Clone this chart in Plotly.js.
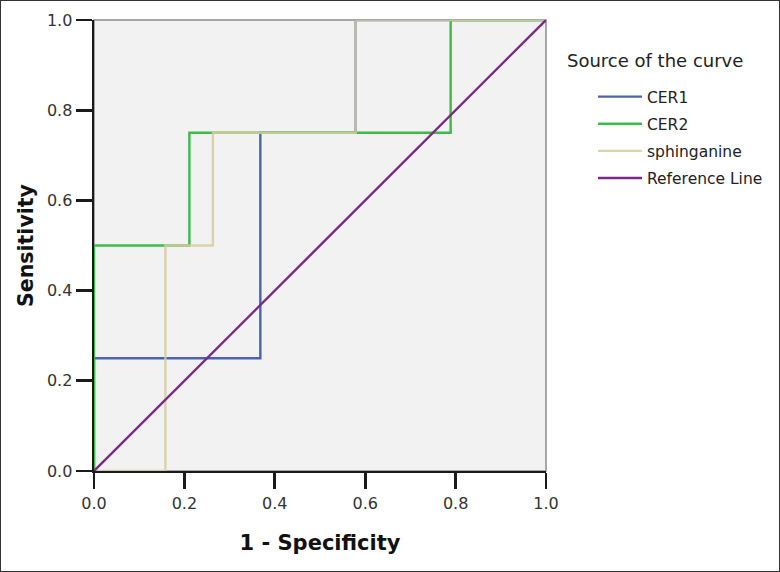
<!DOCTYPE html>
<html>
<head>
<meta charset="utf-8">
<script src="https://cdn.plot.ly/plotly-3.0.1.min.js"></script>
<style>
html,body{margin:0;padding:0;background:#fff;}
#wrap{width:780px;height:572px;position:relative;overflow:hidden;}
#chart{position:absolute;left:0;top:0;width:800px;height:572px;}
#border{position:absolute;left:0;top:0;width:780px;height:572px;box-sizing:border-box;border:1px solid #333;pointer-events:none;}
</style>
</head>
<body>
<div id="wrap"><div id="chart"></div><div id="border"></div></div>
<script>
// ROC curve step points (1 - Specificity, Sensitivity)
const cer1X = [0, 0, 0.368, 0.368, 0.579, 0.579, 1];
const cer1Y = [0, 0.25, 0.25, 0.75, 0.75, 1, 1];
const cer2X = [0, 0, 0.211, 0.211, 0.789, 0.789, 1];
const cer2Y = [0, 0.5, 0.5, 0.75, 0.75, 1, 1];
const sphX = [0, 0.158, 0.158, 0.263, 0.263, 0.579, 0.579, 1];
const sphY = [0, 0, 0.5, 0.5, 0.75, 0.75, 1, 1];
const refX = [0, 1];
const refY = [0, 1];
const seriesNames = ['CER1', 'CER2', 'sphinganine', 'Reference Line'];
const tickVals = [0, 0.2, 0.4, 0.6, 0.8, 1.0];
const tickText = ['0.0', '0.2', '0.4', '0.6', '0.8', '1.0'];

const colors = ['#4b62b3', '#3fba4a', 'rgba(212,206,156,0.85)', '#7b2a84'];
const xs = [cer1X, cer2X, sphX, refX];
const ys = [cer1Y, cer2Y, sphY, refY];

const traces = seriesNames.map((n, i) => ({
  x: xs[i], y: ys[i], name: n, type: 'scatter', mode: 'lines',
  line: {color: colors[i], width: 2.4},
  legendgroup: 'g' + i,
  cliponaxis: false,
  hoverinfo: 'skip'
}));

const font = 'DejaVu Sans, Arial, sans-serif';
const axisCommon = {
  range: [0, 1], tickvals: tickVals, ticktext: tickText,
  showgrid: false, zeroline: false,
  showline: true, linecolor: '#1a1a1a', linewidth: 2.4,
  ticks: 'outside', ticklen: 16, tickwidth: 2.6, tickcolor: '#1a1a1a',
  tickfont: {family: font, size: 16, color: '#333'},
  layer: 'below traces',
  fixedrange: true
};

const layout = {
  width: 800, height: 572,
  margin: {l: 94, r: 254, t: 20, b: 101},
  paper_bgcolor: '#ffffff',
  plot_bgcolor: '#f2f2f2',
  showlegend: true,
  xaxis: Object.assign({}, axisCommon, {
    title: {text: '1 - Specificity', font: {family: font, size: 21, color: '#111', weight: 'bold'}, standoff: 24}
  }),
  yaxis: Object.assign({}, axisCommon, {
    title: {text: 'Sensitivity', font: {family: font, size: 20.5, color: '#111', weight: 'bold'}, standoff: 8}
  }),
  legend: {
    x: (593 - 94) / 452, y: 1 - (80 - 20) / 451, xanchor: 'left', yanchor: 'top',
    font: {family: font, size: 15.5, color: '#222'},
    bgcolor: 'rgba(0,0,0,0)', borderwidth: 0,
    itemwidth: 44, tracegroupgap: 4,
    itemclick: false, itemdoubleclick: false
  },
  shapes: [{
    type: 'rect', xref: 'paper', yref: 'paper', x0: 0, y0: 0, x1: 1, y1: 1,
    line: {color: '#8c8c8c', width: 1.5}, layer: 'below'
  }],
  annotations: [{
    text: 'Source of the curve', xref: 'paper', yref: 'paper',
    x: (565 - 94) / 452, y: 1 - (60 - 20) / 451, xanchor: 'left', yanchor: 'middle',
    showarrow: false, font: {family: font, size: 18, color: '#222'}
  }]
};

Plotly.newPlot('chart', traces, layout, {displayModeBar: false, staticPlot: true});
</script>
</body>
</html>
